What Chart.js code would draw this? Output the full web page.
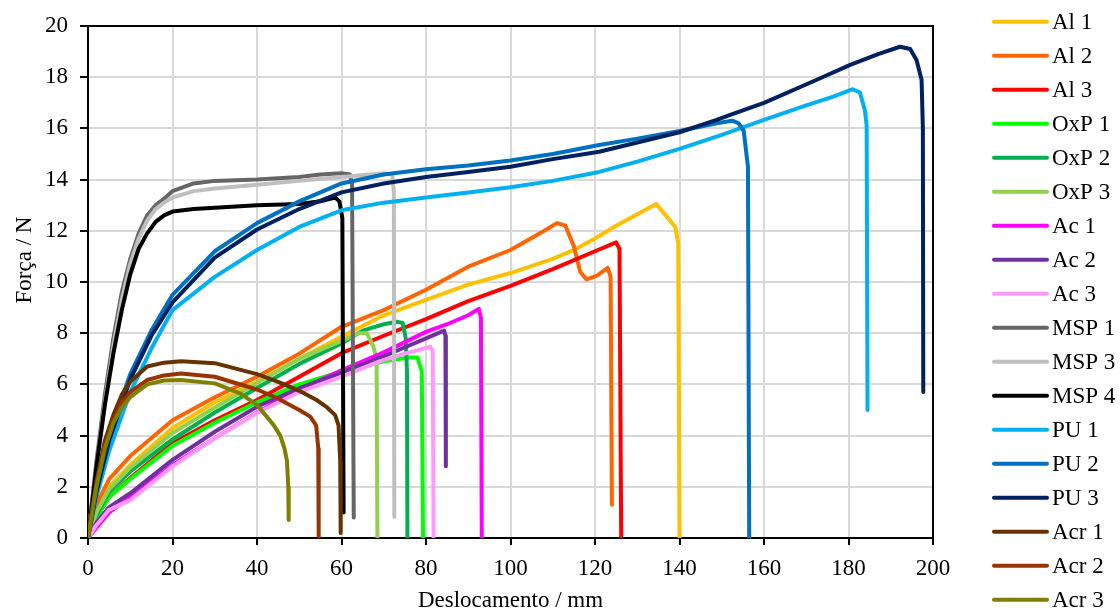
<!DOCTYPE html>
<html>
<head>
<meta charset="utf-8">
<script src="https://cdn.jsdelivr.net/npm/chart.js@4.4.1/dist/chart.umd.min.js"></script>
<style>
  html, body { margin: 0; padding: 0; background: #fff; }
  #wrap { width: 1120px; height: 613px; position: relative; }
</style>
</head>
<body>
<div id="wrap"><canvas id="c" width="1120" height="613"></canvas></div>
<script>
// ---- Data (x = Deslocamento / mm, y = Força / N) ----
const seriesNames = ['Al 1','Al 2','Al 3','OxP 1','OxP 2','OxP 3','Ac 1','Ac 2','Ac 3',
  'MSP 1','MSP 3','MSP 4','PU 1','PU 2','PU 3','Acr 1','Acr 2','Acr 3'];

const xTicks = [0,20,40,60,80,100,120,140,160,180,200];
const yTicks = [0,2,4,6,8,10,12,14,16,18,20];

const al1 = [[0,0],[2,1.0],[5,2.0],[10,2.85],[20,4.3],[30,5.3],[40,6.1],[50,7.0],[60,7.86],[70,8.7],[80,9.3],[90,9.9],[100,10.35],[110,10.9],[115,11.25],[120,11.7],[125,12.2],[130,12.65],[134.5,13.05],[137,12.55],[139,12.15],[139.7,11.5],[140,0]];
const al2 = [[0,0],[2,1.3],[5,2.3],[10,3.2],[20,4.6],[30,5.5],[40,6.3],[50,7.2],[60,8.25],[70,8.9],[80,9.7],[90,10.6],[100,11.25],[108,12.0],[111,12.3],[113,12.2],[115,11.4],[116.5,10.4],[118,10.1],[120.5,10.25],[123,10.55],[123.7,10.2],[124,1.3]];
const al3 = [[0,0],[2,0.8],[5,1.6],[10,2.34],[20,3.7],[30,4.6],[40,5.39],[50,6.3],[60,7.22],[70,7.9],[80,8.55],[90,9.25],[100,9.85],[110,10.5],[120,11.2],[125,11.55],[125.8,11.3],[126.2,0]];
const oxp1 = [[0,0],[2,0.8],[5,1.6],[10,2.3],[20,3.6],[30,4.5],[40,5.3],[50,6.0],[60,6.5],[70,6.9],[76,7.05],[78,7.05],[79,6.5],[79.3,0]];
const oxp2 = [[0,0],[2,0.9],[5,1.8],[10,2.6],[20,3.85],[30,4.9],[40,5.86],[50,6.8],[60,7.6],[65,8.1],[70,8.35],[73,8.45],[74.5,8.4],[75.2,7.8],[75.5,6.5],[75.6,0]];
const oxp3 = [[0,0],[2,1.0],[5,1.9],[10,2.75],[20,4.1],[30,5.1],[40,6.05],[50,7.0],[60,7.7],[64,8.0],[66,8.0],[67.5,7.5],[68.3,7.0],[68.5,0]];
const ac1 = [[0,0],[2,0.4],[5,1.0],[10,1.6],[20,2.85],[30,3.9],[40,4.9],[50,5.8],[60,6.55],[70,7.25],[80,8.05],[85,8.35],[90,8.7],[92.5,8.95],[93,8.6],[93.2,0]];
const ac2 = [[0,0],[2,0.6],[5,1.2],[10,1.75],[20,3.05],[30,4.15],[40,5.13],[50,5.85],[60,6.45],[70,7.1],[80,7.8],[84.3,8.1],[84.6,7.9],[84.7,2.8]];
const ac3 = [[0,0],[2,0.5],[5,1.1],[10,1.48],[20,2.8],[30,3.9],[40,4.88],[50,5.7],[60,6.3],[69,6.9],[75,7.2],[81,7.47],[81.6,7.3],[81.8,0]];
const msp1 = [[0,0],[2,3.0],[4,5.6],[6,7.8],[8,9.6],[10,10.9],[12,11.9],[14,12.6],[16,13.0],[18,13.25],[20,13.55],[25,13.85],[30,13.95],[40,14.0],[50,14.1],[55,14.2],[60,14.25],[62,14.2],[62.5,13.8],[62.9,0.8]];
const msp3 = [[0,0],[2,2.8],[4,5.3],[6,7.5],[8,9.3],[10,10.7],[12,11.7],[14,12.4],[16,12.85],[18,13.1],[20,13.3],[25,13.55],[30,13.65],[40,13.8],[50,13.95],[60,14.1],[70,14.25],[72,14.2],[72.4,13.5],[72.5,0.83]];
const msp4 = [[0,0],[2,2.8],[4,5.2],[6,7.2],[8,8.9],[10,10.3],[12,11.3],[14,11.9],[16,12.35],[18,12.6],[20,12.75],[25,12.85],[30,12.9],[40,13.0],[50,13.05],[55,13.15],[58.5,13.3],[59.5,13.15],[60.2,12.5],[60.5,1.0]];
const pu1 = [[0,0],[2,1.6],[5,3.4],[10,5.7],[15,7.4],[20,8.9],[30,10.2],[40,11.25],[50,12.15],[60,12.8],[70,13.1],[80,13.3],[90,13.5],[100,13.7],[110,13.95],[121,14.3],[130,14.7],[140,15.2],[150,15.75],[160,16.33],[170,16.9],[176.4,17.24],[181,17.53],[182.7,17.4],[183.9,16.7],[184.3,16.1],[184.5,5.0]];
const pu2 = [[0,0],[2,1.9],[5,4.0],[10,6.4],[15,8.1],[20,9.5],[30,11.2],[40,12.3],[50,13.15],[60,13.85],[70,14.2],[80,14.4],[90,14.55],[100,14.75],[110,15.0],[121,15.35],[130,15.6],[140,15.9],[148.8,16.2],[152.5,16.3],[154,16.2],[155.2,15.9],[156.2,14.5],[156.5,0]];
const pu3 = [[0,0],[2,1.8],[5,3.8],[10,6.2],[15,7.9],[20,9.2],[30,10.95],[40,12.05],[50,12.85],[60,13.5],[70,13.85],[80,14.1],[90,14.3],[100,14.5],[110,14.8],[121,15.09],[130,15.45],[140,15.85],[148.8,16.33],[152,16.53],[160,17.0],[172.5,17.9],[180.4,18.48],[187,18.9],[192.2,19.19],[194.6,19.1],[196.1,18.67],[197.3,17.9],[197.6,16.0],[197.7,5.7]];
const acr1 = [[0,0],[2,2.2],[4,3.8],[6,4.8],[8,5.6],[10,6.1],[14,6.7],[18,6.85],[22,6.9],[30,6.83],[40,6.4],[45,6.1],[50,5.75],[54,5.4],[56.6,5.1],[58.5,4.8],[59.3,4.4],[59.7,3.0],[59.8,0.2]];
const acr2 = [[0,0],[2,2.1],[4,3.6],[6,4.6],[8,5.3],[10,5.7],[14,6.17],[18,6.35],[22,6.43],[30,6.3],[40,5.8],[45,5.45],[47,5.26],[50,5.0],[52.6,4.74],[54,4.4],[54.5,3.5],[54.6,0.05]];
const acr3 = [[0,0],[2,2.0],[4,3.5],[6,4.5],[8,5.1],[10,5.5],[14,6.0],[18,6.15],[22,6.17],[30,6.04],[36,5.65],[40,5.2],[42,4.8],[44,4.4],[45.5,4.0],[46.5,3.5],[47.1,3.0],[47.4,2.0],[47.5,0.7]];

const seriesValues = [al1, al2, al3, oxp1, oxp2, oxp3, ac1, ac2, ac3, msp1, msp3, msp4, pu1, pu2, pu3, acr1, acr2, acr3];

// ---- Styles ----
const seriesColors = ['#FFC000','#FF6600','#FF0000','#00FF00','#00B050','#92D050','#FF00FF','#7030A0','#FF99FF',
  '#666666','#BFBFBF','#000000','#00B0F0','#0070C0','#002060','#663300','#993300','#808000'];
const FONT = '"Liberation Serif", "Times New Roman", serif';
const N = seriesNames.length;

const datasets = seriesNames.map((name, i) => ({
  label: name,
  data: seriesValues[i].map(p => ({x: p[0], y: p[1]})),
  borderColor: seriesColors[i],
  backgroundColor: seriesColors[i],
  borderWidth: 4,
  pointRadius: 0,
  tension: 0,
  fill: false,
  order: N - i,
  borderJoinStyle: 'round',
  borderCapStyle: 'round'
}));

const frameAndLegend = {
  id: 'frameAndLegend',
  beforeDatasetsDraw(chart) {
    const {ctx, chartArea: a} = chart;
    ctx.save();
    ctx.strokeStyle = '#000';
    ctx.lineWidth = 2;
    ctx.beginPath();
    ctx.moveTo(a.left, a.top);
    ctx.lineTo(a.right, a.top);
    ctx.lineTo(a.right, a.bottom);
    ctx.stroke();
    ctx.restore();
  },
  afterDraw(chart) {
    const {ctx} = chart;
    ctx.save();
    // y-axis title
    ctx.font = '23px ' + FONT;
    ctx.fillStyle = '#000';
    ctx.textAlign = 'center';
    ctx.textBaseline = 'middle';
    ctx.translate(25, 260);
    ctx.rotate(-Math.PI / 2);
    ctx.fillText('Força / N', 0, 0);
    ctx.restore();
    // legend
    ctx.save();
    ctx.font = '23px ' + FONT;
    ctx.textBaseline = 'middle';
    ctx.textAlign = 'left';
    chart.data.datasets.forEach((ds, i) => {
      const y = 21.7 + 34 * i;
      ctx.strokeStyle = ds.borderColor;
      ctx.lineWidth = 4;
      ctx.lineCap = 'round';
      ctx.beginPath();
      ctx.moveTo(994, y);
      ctx.lineTo(1047, y);
      ctx.stroke();
      ctx.fillStyle = '#000';
      ctx.fillText(ds.label, 1052, y + 1);
    });
    ctx.restore();
  }
};

new Chart(document.getElementById('c'), {
  type: 'line',
  data: { datasets },
  options: {
    responsive: false,
    animation: false,
    parsing: true,
    layout: { padding: { left: 0, top: 26, right: 187, bottom: 0 } },
    plugins: { legend: { display: false }, tooltip: { enabled: false } },
    scales: {
      x: {
        type: 'linear',
        min: 0, max: 200,
        afterBuildTicks: s => { s.ticks = xTicks.map(v => ({value: v})); },
        afterFit: s => { s.height = 75; },
        grid: { color: '#d9d9d9', lineWidth: 2, tickColor: '#000', tickWidth: 2, tickLength: 7 },
        border: { color: '#000', width: 2 },
        ticks: { color: '#000', font: { family: FONT, size: 23 }, padding: 10, maxRotation: 0 },
        title: { display: true, text: 'Deslocamento / mm', color: '#000', font: { family: FONT, size: 23 }, padding: { top: 0, bottom: -2 } }
      },
      y: {
        type: 'linear',
        min: 0, max: 20,
        afterBuildTicks: s => { s.ticks = yTicks.map(v => ({value: v})); },
        afterFit: s => { s.width = 88; },
        grid: { color: '#d9d9d9', lineWidth: 2, tickColor: '#000', tickWidth: 2, tickLength: 8 },
        border: { color: '#000', width: 2 },
        ticks: { color: '#000', font: { family: FONT, size: 23 }, padding: 12 }
      }
    }
  },
  plugins: [frameAndLegend]
});
</script>
</body>
</html>
